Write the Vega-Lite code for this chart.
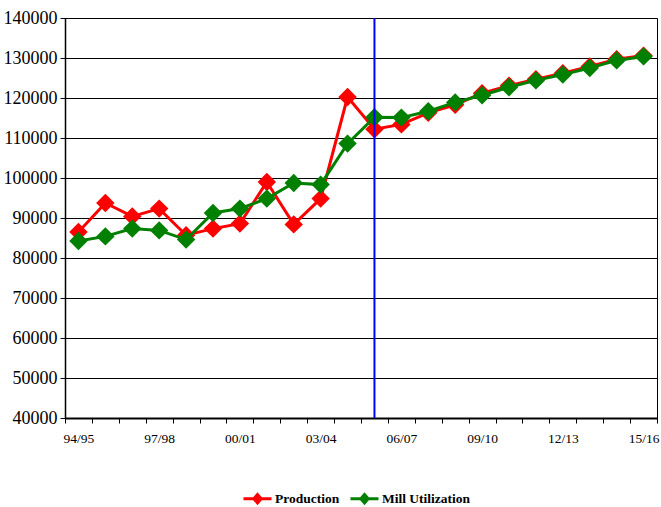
{
  "$schema": "https://vega.github.io/schema/vega-lite/v6.json",
  "width": 592,
  "height": 400,
  "autosize": "none",
  "padding": {"left": 65, "top": 18, "right": 4, "bottom": 89},
  "background": "white",
  "datasets": {
    "seasons": [
      {"season": "94/95", "series": "Production", "value": 86500},
      {"season": "95/96", "series": "Production", "value": 93750},
      {"season": "96/97", "series": "Production", "value": 90400},
      {"season": "97/98", "series": "Production", "value": 92350},
      {"season": "98/99", "series": "Production", "value": 85700},
      {"season": "99/00", "series": "Production", "value": 87350},
      {"season": "00/01", "series": "Production", "value": 88600},
      {"season": "01/02", "series": "Production", "value": 99000},
      {"season": "02/03", "series": "Production", "value": 88400},
      {"season": "03/04", "series": "Production", "value": 94850},
      {"season": "04/05", "series": "Production", "value": 120250},
      {"season": "05/06", "series": "Production", "value": 112200},
      {"season": "06/07", "series": "Production", "value": 113400},
      {"season": "07/08", "series": "Production", "value": 116300},
      {"season": "08/09", "series": "Production", "value": 118300},
      {"season": "09/10", "series": "Production", "value": 121200},
      {"season": "10/11", "series": "Production", "value": 123100},
      {"season": "11/12", "series": "Production", "value": 124700},
      {"season": "12/13", "series": "Production", "value": 126200},
      {"season": "13/14", "series": "Production", "value": 127900},
      {"season": "14/15", "series": "Production", "value": 129700},
      {"season": "15/16", "series": "Production", "value": 130600},
      {"season": "94/95", "series": "Mill Utilization", "value": 84250},
      {"season": "95/96", "series": "Mill Utilization", "value": 85400},
      {"season": "96/97", "series": "Mill Utilization", "value": 87350},
      {"season": "97/98", "series": "Mill Utilization", "value": 86900},
      {"season": "98/99", "series": "Mill Utilization", "value": 84600},
      {"season": "99/00", "series": "Mill Utilization", "value": 91250},
      {"season": "00/01", "series": "Mill Utilization", "value": 92350},
      {"season": "01/02", "series": "Mill Utilization", "value": 94850},
      {"season": "02/03", "series": "Mill Utilization", "value": 98750},
      {"season": "03/04", "series": "Mill Utilization", "value": 98350},
      {"season": "04/05", "series": "Mill Utilization", "value": 108600},
      {"season": "05/06", "series": "Mill Utilization", "value": 115200},
      {"season": "06/07", "series": "Mill Utilization", "value": 115100},
      {"season": "07/08", "series": "Mill Utilization", "value": 116700},
      {"season": "08/09", "series": "Mill Utilization", "value": 118900},
      {"season": "09/10", "series": "Mill Utilization", "value": 120700},
      {"season": "10/11", "series": "Mill Utilization", "value": 122700},
      {"season": "11/12", "series": "Mill Utilization", "value": 124400},
      {"season": "12/13", "series": "Mill Utilization", "value": 125850},
      {"season": "13/14", "series": "Mill Utilization", "value": 127500},
      {"season": "14/15", "series": "Mill Utilization", "value": 129400},
      {"season": "15/16", "series": "Mill Utilization", "value": 130400}
    ]
  },
  "data": {"name": "seasons"},
  "encoding": {
    "x": {
      "field": "season",
      "type": "ordinal",
      "scale": {
        "type": "band",
        "paddingInner": 0,
        "paddingOuter": 0,
        "domain": ["94/95", "95/96", "96/97", "97/98", "98/99", "99/00", "00/01", "01/02", "02/03", "03/04", "04/05", "05/06", "06/07", "07/08", "08/09", "09/10", "10/11", "11/12", "12/13", "13/14", "14/15", "15/16"]
      },
      "axis": {
        "title": null,
        "labelAngle": 0,
        "tickBand": "extent",
        "labelFont": "Liberation Serif",
        "labelFontSize": 13.5,
        "labelPadding": 8,
        "labelExpr": "indexof(['94/95','97/98','00/01','03/04','06/07','09/10','12/13','15/16'], datum.value) >= 0 ? datum.value : ''"
      }
    },
    "y": {
      "field": "value",
      "type": "quantitative",
      "scale": {"domain": [40000, 140000], "nice": false, "zero": false},
      "axis": {"title": null, "labelFont": "Liberation Serif", "labelFontSize": 18, "labelPadding": 3, "values": [40000, 50000, 60000, 70000, 80000, 90000, 100000, 110000, 120000, 130000, 140000], "format": "d", "grid": true}
    }
  },
  "layer": [
    {
      "transform": [{"filter": "datum.series === 'Production'"}],
      "mark": {"type": "line", "strokeWidth": 3},
      "encoding": {
        "color": {
          "field": "series",
          "type": "nominal",
          "scale": {"domain": ["Production", "Mill Utilization"], "range": ["#FF0000", "#008000"]},
          "legend": {
            "title": null,
            "orient": "none",
            "direction": "horizontal",
            "legendX": 177,
            "legendY": 465,
            "symbolSize": 784,
            "symbolStrokeWidth": 3,
            "symbolType": "M-1,0L1,0M-0.26,0L0,-0.3L0.26,0L0,0.3Z",
            "labelFont": "Liberation Serif",
            "labelFontWeight": "bold",
            "labelFontSize": 13.5,
            "labelColor": "black",
            "labelOffset": 2,
            "columnPadding": 4,
            "padding": 0,
            "encode": {
              "symbols": {
                "update": {
                  "fill": {"scale": "color", "field": "value"},
                  "stroke": {"scale": "color", "field": "value"},
                  "fillOpacity": {"value": 1},
                  "opacity": {"value": 1}
                }
              }
            }
          }
        }
      }
    },
    {
      "transform": [{"filter": "datum.series === 'Production'"}],
      "mark": {"type": "point", "shape": "diamond", "filled": true, "size": 340, "opacity": 1},
      "encoding": {
        "fill": {"field": "series", "type": "nominal", "scale": {"domain": ["Production", "Mill Utilization"], "range": ["#FF0000", "#008000"]}, "legend": null}
      }
    },
    {
      "transform": [{"filter": "datum.series === 'Mill Utilization'"}],
      "mark": {"type": "line", "strokeWidth": 3},
      "encoding": {
        "color": {"field": "series", "type": "nominal"}
      }
    },
    {
      "transform": [{"filter": "datum.series === 'Mill Utilization'"}],
      "mark": {"type": "point", "shape": "diamond", "filled": true, "size": 340, "opacity": 1},
      "encoding": {
        "fill": {"field": "series", "type": "nominal", "legend": null}
      }
    },
    {
      "data": {"values": [{"season": "05/06"}]},
      "mark": {"type": "rule", "color": "#0000FF", "strokeWidth": 2},
      "encoding": {
        "x": {"field": "season", "type": "ordinal"},
        "y": null
      }
    }
  ],
  "config": {
    "font": "Liberation Serif",
    "view": {"stroke": "black", "strokeWidth": 1},
    "axis": {
      "labelColor": "black",
      "domainColor": "black",
      "tickColor": "black",
      "gridColor": "black",
      "gridOpacity": 1,
      "gridWidth": 1,
      "tickSize": 5
    },
    "axisX": {"domainWidth": 2},
    "axisY": {"domainWidth": 1.5}
  }
}
